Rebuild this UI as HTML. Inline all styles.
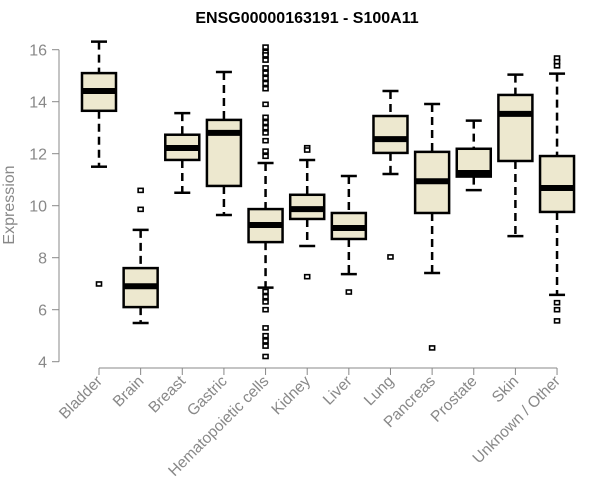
<!DOCTYPE html>
<html><head><meta charset="utf-8"><style>
body{margin:0;background:#fff}
svg{display:block;font-family:"Liberation Sans",Arial,sans-serif}
</style></head><body>
<svg id="chart" width="600" height="500">
<text x="307" y="23" text-anchor="middle" font-weight="bold" font-size="16">ENSG00000163191 - S100A11</text>
<text transform="translate(14,205) rotate(-90)" text-anchor="middle" font-size="16" fill="#888">Expression</text>
<g id="yaxis"></g>
<g id="xaxis"></g>
<g id="boxes"></g>
</svg>
<script>
const categories=["Bladder","Brain","Breast","Gastric","Hematopoietic cells","Kidney","Liver","Lung","Pancreas","Prostate","Skin","Unknown / Other"];
const whiskerLow=[11.5,5.49,10.5,9.64,6.85,8.45,7.37,11.22,7.41,10.6,8.83,6.57];
const q1=[13.65,6.1,11.76,10.76,8.6,9.49,8.72,12.03,9.72,11.12,11.72,9.76];
const medians=[14.41,6.9,12.22,12.8,9.26,9.87,9.14,12.56,10.94,11.26,13.53,10.68];
const q3=[15.1,7.6,12.73,13.3,9.87,10.42,9.72,13.45,12.07,12.19,14.26,11.91];
const whiskerHigh=[16.31,9.07,13.56,15.14,11.64,11.76,11.14,14.41,13.91,13.27,15.04,15.08];
const outliers=[[6.99],[10.59,9.86],[],[],[16.1,15.9,15.8,15.6,15.3,15.1,14.9,14.7,14.5,13.9,13.4,13.2,13.0,12.8,12.5,12.1,11.9,6.7,6.5,6.3,6.0,5.3,5.0,4.8,4.6,4.2],[12.23,12.14,7.27],[6.68],[8.03],[4.53],[],[],[15.68,15.54,15.38,6.27,6.0,5.57]];
const yTicks=[4,6,8,10,12,14,16];
const NS="http://www.w3.org/2000/svg";
const y=v=>361.7-(v-4)*26;
const x=i=>99+i*41.64;
function mk(tag,attrs,parent){const e=document.createElementNS(NS,tag);for(const k in attrs)e.setAttribute(k,attrs[k]);parent.appendChild(e);return e;}
const ya=document.getElementById('yaxis'),xa=document.getElementById('xaxis'),bx=document.getElementById('boxes');
mk('line',{x1:59,x2:59,y1:y(16),y2:y(4),stroke:'#888'},ya);
yTicks.forEach(t=>{
  mk('line',{x1:52,x2:59,y1:y(t),y2:y(t),stroke:'#888'},ya);
  const tx=mk('text',{x:47,y:y(t)+6,'text-anchor':'end','font-size':16,fill:'#888'},ya);
  tx.textContent=t;
  
  
});
mk('line',{x1:x(0),x2:x(categories.length-1),y1:368,y2:368,stroke:'#888'},xa);
categories.forEach((c,i)=>{
  mk('line',{x1:x(i),x2:x(i),y1:368,y2:375,stroke:'#888'},xa);
  const tx=mk('text',{transform:`translate(${x(i)+4},382) rotate(-45)`,'text-anchor':'end','font-size':15.5,fill:'#888'},xa);
  tx.textContent=c;
  
  
  const g=mk('g',{},bx);
  
  
  const cx=x(i),hw=17,cw=8;
  mk('line',{x1:cx,x2:cx,y1:y(whiskerHigh[i]),y2:y(q3[i]),stroke:'#000','stroke-width':2.5,'stroke-dasharray':'8,5'},g);
  mk('line',{x1:cx,x2:cx,y1:y(q1[i]),y2:y(whiskerLow[i]),stroke:'#000','stroke-width':2.5,'stroke-dasharray':'8,5'},g);
  mk('line',{x1:cx-cw,x2:cx+cw,y1:y(whiskerHigh[i]),y2:y(whiskerHigh[i]),stroke:'#000','stroke-width':2.5},g);
  mk('line',{x1:cx-cw,x2:cx+cw,y1:y(whiskerLow[i]),y2:y(whiskerLow[i]),stroke:'#000','stroke-width':2.5},g);
  mk('rect',{x:cx-hw,y:y(q3[i]),width:hw*2,height:y(q1[i])-y(q3[i]),fill:'#ede8cf',stroke:'#000','stroke-width':2.5},g);
  mk('line',{x1:cx-hw,x2:cx+hw,y1:y(medians[i]),y2:y(medians[i]),stroke:'#000','stroke-width':6},g);
  outliers[i].forEach(o=>{mk('rect',{x:cx-2.5,y:y(o)-2,width:5,height:4,fill:'#fff',stroke:'#000','stroke-width':1.6},g);});
});
</script>
</body></html>
